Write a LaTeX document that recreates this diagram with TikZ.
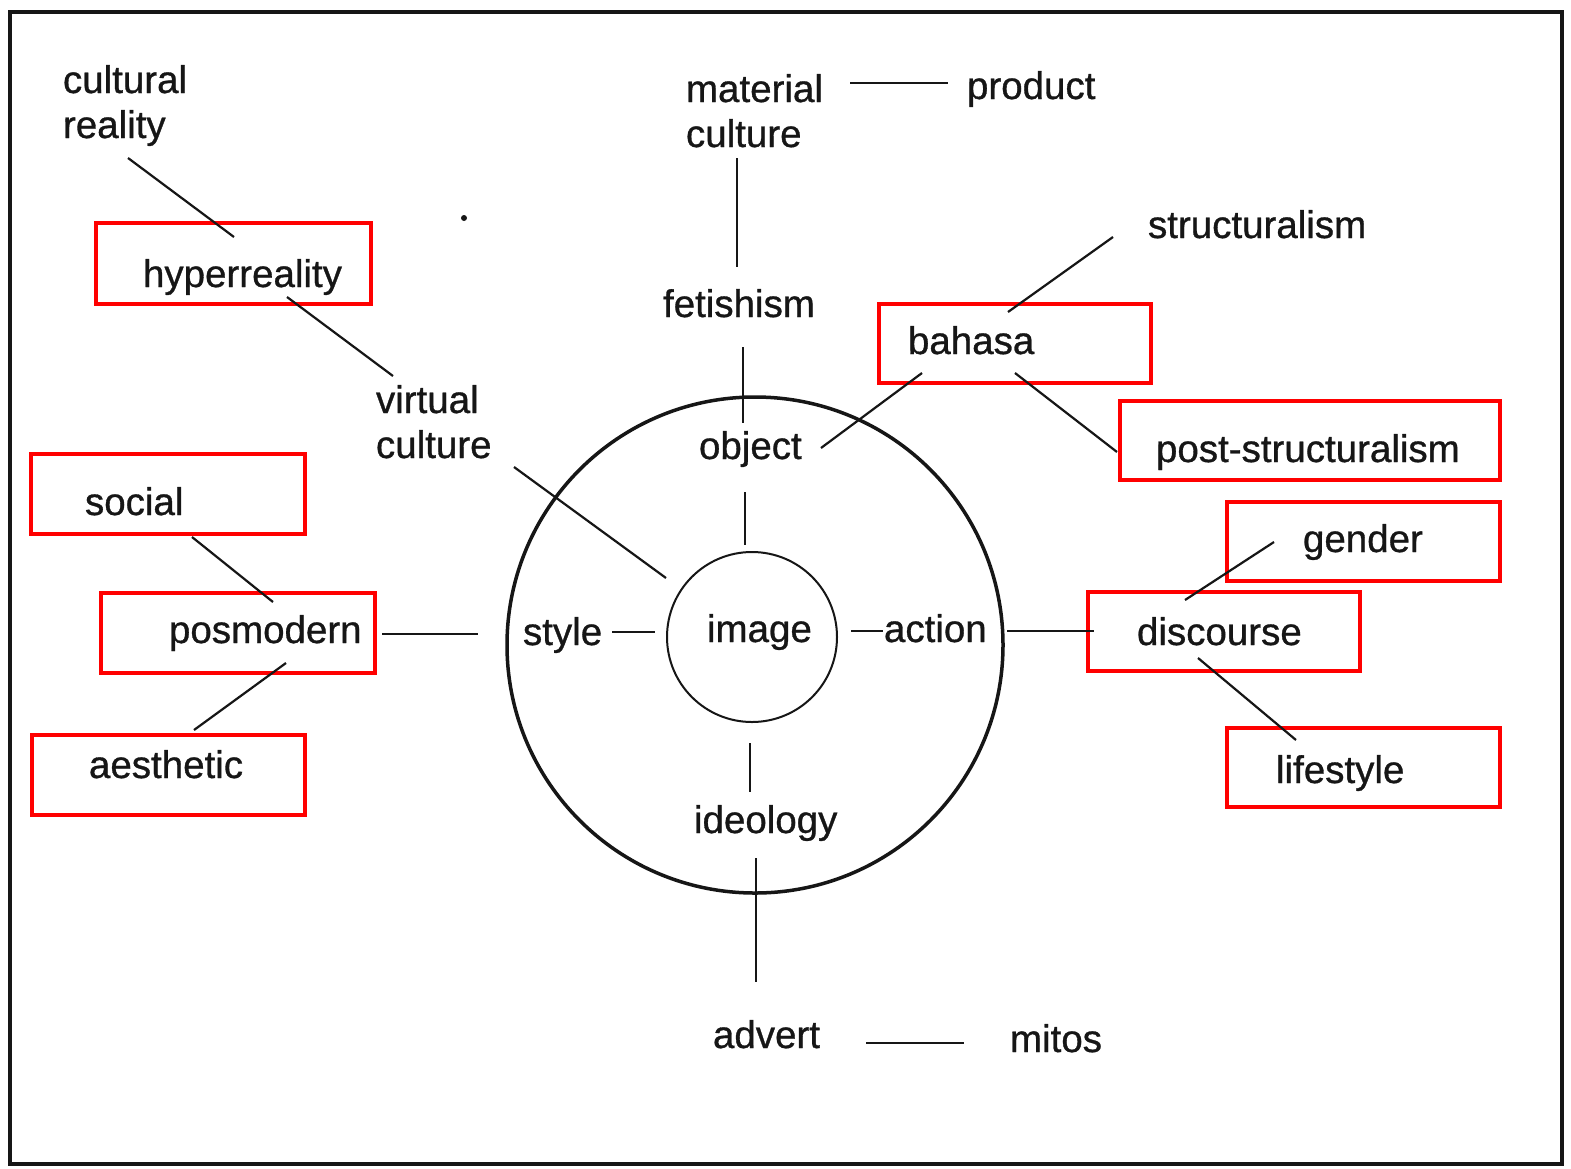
\documentclass[tikz,border=0pt]{standalone}
\usepackage{fontspec}
\setmainfont{Liberation Sans}[FakeBold=0.8]
\usetikzlibrary{fit}
\definecolor{ink}{RGB}{22,22,22}
\definecolor{boxred}{RGB}{255,0,0}
\begin{document}
\begin{tikzpicture}[x=1pt,y=-1pt,
  lbl/.style={anchor=base west, inner sep=0pt, outer sep=0pt, text=ink, font=\fontsize{38.5}{45}\selectfont},
  lbltwo/.style={lbl, align=left},
  redbox/.style={draw=boxred, line width=4.5pt, inner sep=0pt, outer sep=0pt},
  link/.style={draw=ink, line width=2.2pt},
  ring/.style={draw=ink, circle, inner sep=0pt, outer sep=0pt}]
\useasboundingbox (0,0) rectangle (1571,1168);
\fill[white] (0,0) rectangle (1571,1168);
% frame
\draw[ink, line width=4pt] (10,12) rectangle (1562,1164);
% circles
\node[ring, line width=3.5pt, minimum size=496pt] (outer) at (755,645) {};
\node[ring, line width=2pt, minimum size=170pt] (inner) at (752,637) {};
% red boxes
\node[redbox, fit={(96,223) (371,304)}] (bhyper) {};
\node[redbox, fit={(31,454) (305,534)}] (bsoc) {};
\node[redbox, fit={(101,593) (375,673)}] (bposm) {};
\node[redbox, fit={(32,735) (305,815)}] (baest) {};
\node[redbox, fit={(879,304) (1151,383)}] (bbah) {};
\node[redbox, fit={(1120,401) (1500,480)}] (bpost) {};
\node[redbox, fit={(1227,502) (1500,581)}] (bgend) {};
\node[redbox, fit={(1088,592) (1360,671)}] (bdisc) {};
\node[redbox, fit={(1227,728) (1500,807)}] (blife) {};
% labels (two-line labels are anchored at the baseline of their last line)
\node[lbltwo] (cult) at (63,138) {cultural\\reality};
\node[lbl] (hyper) at (143,287) {hyperreality};
\node[lbltwo] (virt) at (376,458) {virtual\\culture};
\node[lbltwo] (mat) at (686,147) {material\\culture};
\node[lbl] (prod) at (967,99) {product};
\node[lbl] (fet) at (663,317) {fetishism};
\node[lbl] (bah) at (908,354) {bahasa};
\node[lbl] (struct) at (1148,238) {structuralism};
\node[lbl] (post) at (1156,462) {post-structuralism};
\node[lbl] (gend) at (1303,552) {gender};
\node[lbl] (disc) at (1137,645) {discourse};
\node[lbl] (life) at (1276,783) {lifestyle};
\node[lbl] (soc) at (85,515) {social};
\node[lbl] (posm) at (169,643) {posmodern};
\node[lbl] (aest) at (89,778) {aesthetic};
\node[lbl] (obj) at (699,459) {object};
\node[lbl] (sty) at (523,645) {style};
\node[lbl] (img) at (707,642) {image};
\node[lbl] (act) at (884,642) {action};
\node[lbl] (ideo) at (694,833) {ideology};
\node[lbl] (adv) at (713,1048) {advert};
\node[lbl] (mit) at (1010,1052) {mitos};
% connector end points
\coordinate (cultA) at (128,158);   \coordinate (cultB) at (234,237);
\coordinate (hypA) at (287,297);    \coordinate (hypB) at (393,376);
\coordinate (virA) at (514,467);    \coordinate (virB) at (666,578);
\coordinate (matA) at (850,83);     \coordinate (matB) at (948,83);
\coordinate (mfA) at (737,158);     \coordinate (mfB) at (737,267);
\coordinate (foA) at (743,347);     \coordinate (foB) at (743,423);
\coordinate (oiA) at (745,492);     \coordinate (oiB) at (745,545);
\coordinate (obA) at (821,448);     \coordinate (obB) at (922,373);
\coordinate (bsA) at (1008,312);    \coordinate (bsB) at (1113,237);
\coordinate (bpA) at (1015,373);    \coordinate (bpB) at (1117,452);
\coordinate (gdA) at (1274,542);    \coordinate (gdB) at (1185,600);
\coordinate (dlA) at (1198,658);    \coordinate (dlB) at (1296,740);
\coordinate (adA) at (1007,631);    \coordinate (adB) at (1094,631);
\coordinate (iaA) at (851,631);     \coordinate (iaB) at (883,631);
\coordinate (siA) at (612,632);     \coordinate (siB) at (655,632);
\coordinate (psA) at (382,634);     \coordinate (psB) at (478,634);
\coordinate (spA) at (192,537);     \coordinate (spB) at (273,602);
\coordinate (paA) at (286,663);     \coordinate (paB) at (194,730);
\coordinate (idA) at (750,743);     \coordinate (idB) at (750,792);
\coordinate (iaDA) at (756,858);    \coordinate (iaDB) at (756,982);
\coordinate (amA) at (866,1043);    \coordinate (amB) at (964,1043);
% connectors
\draw[link] (cultA) -- (cultB);
\draw[link] (hypA) -- (hypB);
\draw[link] (virA) -- (virB);
\draw[link] (matA) -- (matB);
\draw[link] (mfA) -- (mfB);
\draw[link] (foA) -- (foB);
\draw[link] (oiA) -- (oiB);
\draw[link] (obA) -- (obB);
\draw[link] (bsA) -- (bsB);
\draw[link] (bpA) -- (bpB);
\draw[link] (gdA) -- (gdB);
\draw[link] (dlA) -- (dlB);
\draw[link] (adA) -- (adB);
\draw[link] (iaA) -- (iaB);
\draw[link] (siA) -- (siB);
\draw[link] (psA) -- (psB);
\draw[link] (spA) -- (spB);
\draw[link] (paA) -- (paB);
\draw[link] (idA) -- (idB);
\draw[link] (iaDA) -- (iaDB);
\draw[link] (amA) -- (amB);
% speck
\fill[ink] (464,218) circle (3pt);
\end{tikzpicture}
\end{document}
